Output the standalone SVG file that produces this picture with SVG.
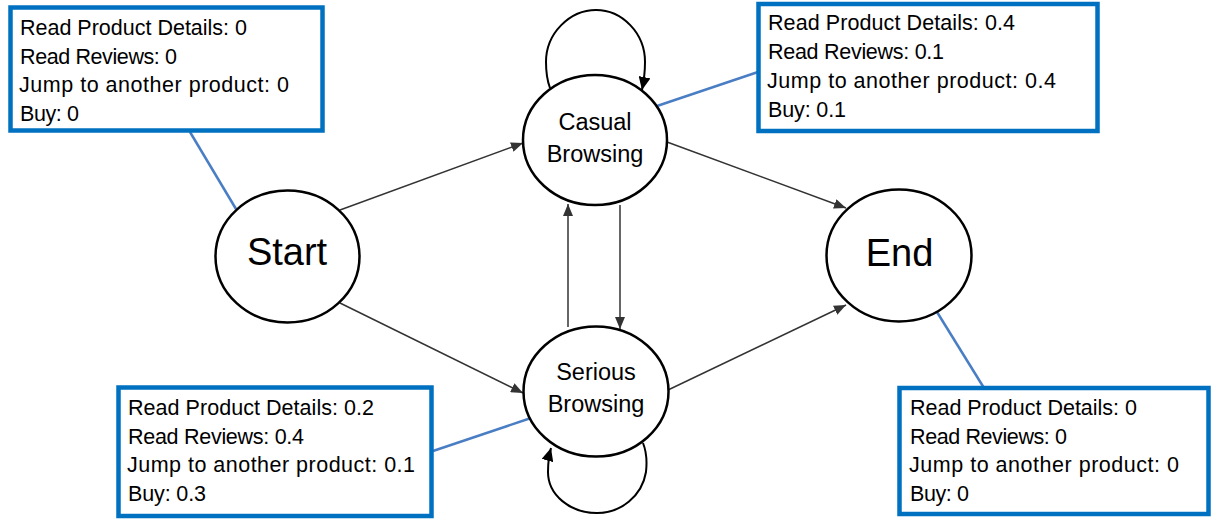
<svg xmlns="http://www.w3.org/2000/svg" width="1219" height="523" viewBox="0 0 1219 523">
<style>
.node{fill:#fff;stroke:#000;stroke-width:2.5}
.lbl{font-family:"Liberation Sans",Arial,sans-serif;fill:#000;text-anchor:middle}
.box{fill:#fff;stroke:#0070C0;stroke-width:4.5}
.btxt{font-family:"Liberation Sans",Arial,sans-serif;font-size:21.5px;fill:#000}
.conn{fill:none;stroke:#333;stroke-width:1.5}
.loop{fill:none;stroke:#000;stroke-width:2}
.call{fill:none;stroke:#4A7EC4;stroke-width:2.5}
</style>
<defs>
<marker id="ah" markerUnits="userSpaceOnUse" markerWidth="12" markerHeight="10" refX="12" refY="5" orient="auto">
<path d="M0,0 L12,5 L0,10 z" fill="#333"/>
</marker>
<marker id="ahl" markerUnits="userSpaceOnUse" markerWidth="13" markerHeight="12" refX="13" refY="6" orient="auto">
<path d="M0,0 L13,6 L0,12 z" fill="#000"/>
</marker>
</defs>
<g id="callouts">
<line class="call" x1="190" y1="132" x2="236" y2="209"/>
<line class="call" x1="657" y1="106" x2="758" y2="72"/>
<line class="call" x1="937" y1="312" x2="984" y2="388"/>
<line class="call" x1="433" y1="451" x2="531" y2="418"/>
</g>
<g id="connectors">
<line class="conn" x1="340" y1="210" x2="523" y2="143" marker-end="url(#ah)"/>
<line class="conn" x1="340" y1="303" x2="523" y2="393" marker-end="url(#ah)"/>
<line class="conn" x1="667" y1="142" x2="846" y2="208" marker-end="url(#ah)"/>
<line class="conn" x1="668" y1="390" x2="846" y2="305" marker-end="url(#ah)"/>
<line class="conn" x1="568" y1="327" x2="568" y2="204" marker-end="url(#ah)"/>
<line class="conn" x1="620" y1="205" x2="620" y2="329" marker-end="url(#ah)"/>
<path class="loop" d="M550 88 C547 80,546 72,546 62 C546 33,570 10,596 10 C622 10,645 33,645 62 C645 72,644 80,642 90" marker-end="url(#ahl)"/>
<path class="loop" d="M643 443 C647 453,647 463,646 472 C642 496,621 513,597 513 C570 513,548 495,548 472 C548 463,549 455,551 448" marker-end="url(#ahl)"/>
</g>
<g id="start">
<ellipse class="node" cx="287.5" cy="256.5" rx="72" ry="66"/>
<text class="lbl" x="287" y="265" font-size="38">Start</text>
</g>
<g id="casual">
<ellipse class="node" cx="595" cy="140" rx="72" ry="65"/>
<text class="lbl" x="595" y="130" font-size="23.5">Casual</text>
<text class="lbl" x="595" y="161.5" font-size="23.5">Browsing</text>
</g>
<g id="serious">
<ellipse class="node" cx="596" cy="391.5" rx="72.5" ry="65"/>
<text class="lbl" x="596" y="380" font-size="23.5">Serious</text>
<text class="lbl" x="596" y="411.5" font-size="23.5">Browsing</text>
</g>
<g id="end">
<ellipse class="node" cx="899" cy="255.5" rx="72.5" ry="66"/>
<text class="lbl" x="899.5" y="266" font-size="38">End</text>
</g>
<g id="box-start">
<rect class="box" x="10.5" y="7.5" width="312" height="123"/>
<text class="btxt" x="20" y="35" textLength="227">Read Product Details: 0</text>
<text class="btxt" x="20" y="63.5" textLength="157">Read Reviews: 0</text>
<text class="btxt" x="19" y="92" textLength="270">Jump to another product: 0</text>
<text class="btxt" x="20" y="120.5" textLength="59">Buy: 0</text>
</g>
<g id="box-casual">
<rect class="box" x="758.5" y="4" width="339" height="127"/>
<text class="btxt" x="768" y="30" textLength="247">Read Product Details: 0.4</text>
<text class="btxt" x="768" y="59" textLength="176">Read Reviews: 0.1</text>
<text class="btxt" x="767" y="88" textLength="289">Jump to another product: 0.4</text>
<text class="btxt" x="768" y="117" textLength="78">Buy: 0.1</text>
</g>
<g id="box-serious">
<rect class="box" x="118.5" y="387.5" width="313" height="128.5"/>
<text class="btxt" x="128" y="414.5" textLength="246">Read Product Details: 0.2</text>
<text class="btxt" x="128" y="443.5" textLength="176">Read Reviews: 0.4</text>
<text class="btxt" x="127" y="472" textLength="288">Jump to another product: 0.1</text>
<text class="btxt" x="128" y="501" textLength="78">Buy: 0.3</text>
</g>
<g id="box-end">
<rect class="box" x="899.5" y="388" width="309" height="126"/>
<text class="btxt" x="910" y="414.5" textLength="227">Read Product Details: 0</text>
<text class="btxt" x="910" y="443.5" textLength="157">Read Reviews: 0</text>
<text class="btxt" x="909" y="472" textLength="270">Jump to another product: 0</text>
<text class="btxt" x="910" y="501" textLength="59">Buy: 0</text>
</g>
</svg>
